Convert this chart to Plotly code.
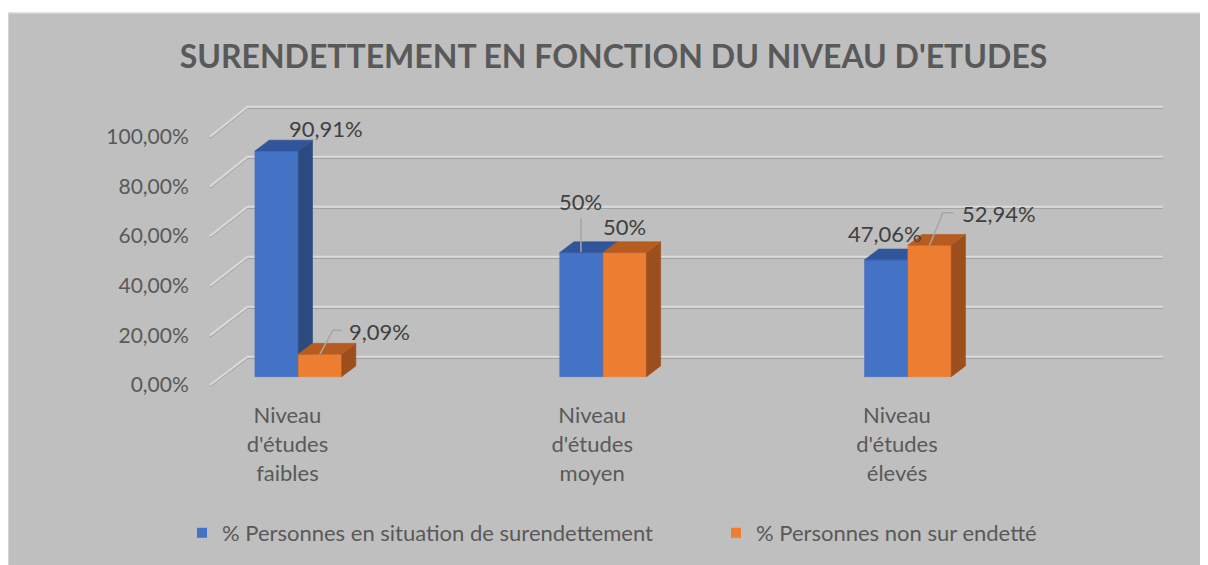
import plotly.graph_objects as go

# ---------------- data ----------------
categories = ["Niveau<br>d'études<br>faibles", "Niveau<br>d'études<br>moyen", "Niveau<br>d'études<br>élevés"]
series_names = ["% Personnes en situation de surendettement", "% Personnes non sur endetté"]
surendettes = [90.91, 50.0, 47.06]
non_surendettes = [9.09, 50.0, 52.94]
y_ticks = [0, 20, 40, 60, 80, 100]
title_text = "SURENDETTEMENT EN FONCTION DU NIVEAU D'ETUDES"

# ---------------- style / geometry (page pixels) ----------------
PAGE_W, PAGE_H = 1208, 565
OFF = 8                                  # page body margin
W, H = PAGE_W - OFF, PAGE_H - OFF        # figure size
PLOT_X0, PLOT_X1 = 200, 1170             # plot area, page px
PLOT_Y0, PLOT_Y1 = 100, 395
L, R = PLOT_X0 - OFF, PAGE_W - PLOT_X1
T, B = PLOT_Y0 - OFF, PAGE_H - PLOT_Y1

CAT0_PX = 287.4      # page x of first category on the front plane
CAT_PX = 304.8       # pixels per category
ZERO_PY = 385.0      # page y of 0 % on the front plane
PCT_PX = 2.483       # pixels per percent
BAR_W_PX = 43.35
GROUP_SHIFT_PX = 10.9
BAR_LIFT_PX = 8.3
DEPTH_DX_PX, DEPTH_DY_PX = 14.2, 10.8
WALL_LEFT_PX = 210.0
WALL_DX_PX, WALL_DY_PX = 37.5, 28.3
WALL_RIGHT_PX = 1163.0
WALL_SCALE = 1.0068
LEGEND_X_PX = [182, 716]
LEGEND_Y_PX = 533

FONT = "Lato"
TEXT_GREY = "#595959"
LABEL_GREY = "#404040"
BG = "#BFBFBF"
front_colors = ["#4472C4", "#ED7D31"]
side_colors = ["#2C4A80", "#9C4F1D"]
top_colors = ["#31559A", "#B65C20"]

dxu = lambda px: px / CAT_PX      # pixels -> category units
dyu = lambda px: px / PCT_PX      # pixels -> percent units

x_range = [(PLOT_X0 - CAT0_PX) / CAT_PX, (PLOT_X1 - CAT0_PX) / CAT_PX]
y_range = [(ZERO_PY - PLOT_Y1) / PCT_PX, (ZERO_PY - PLOT_Y0) / PCT_PX]

def paper_x(px):
    return (px - PLOT_X0) / (PLOT_X1 - PLOT_X0)

def paper_y(py):
    return (PLOT_Y1 - py) / (PLOT_Y1 - PLOT_Y0)

def cont_x(px):
    return (px - OFF) / W

def cont_y(py):
    return 1 - (py - OFF) / H

fig = go.Figure()

# ---------------- walls / gridlines ----------------
fx = dxu(WALL_LEFT_PX - CAT0_PX)
bx = fx + dxu(WALL_DX_PX)
brx = dxu(WALL_RIGHT_PX - CAT0_PX)
wall_lift = dyu(WALL_DY_PX)
for color, width, shift in [("#A3A3A3", 1.2, dyu(1.6)), ("#DADADA", 2.0, 0.0)]:
    gx, gy = [], []
    for v in y_ticks:
        vb = wall_lift + v * WALL_SCALE
        gx += [fx, bx, brx, None]
        gy += [v - shift, vb - shift, vb - shift, None]
    fig.add_trace(go.Scatter(x=gx, y=gy, mode="lines", line=dict(color=color, width=width),
                             hoverinfo="skip", showlegend=False))

# ---------------- 3D bars ----------------
bw = dxu(BAR_W_PX)
lift = dyu(BAR_LIFT_PX)
ddx, ddy = dxu(DEPTH_DX_PX), dyu(DEPTH_DY_PX)
series = [surendettes, non_surendettes]
bar_geo = []  # per series: list of (center x, top y)
for s, vals in enumerate(series):
    fxs, fys, sxs, sys_, txs, tys = [], [], [], [], [], []
    geo = []
    for i, v in enumerate(vals):
        xl = i + dxu(GROUP_SHIFT_PX) - bw + s * bw
        xr = xl + bw
        b0 = lift
        t0 = lift + v
        geo.append(((xl + xr) / 2, t0))
        fxs += [xl, xr, xr, xl, xl, None]
        fys += [b0, b0, t0, t0, b0, None]
        sxs += [xr, xr + ddx, xr + ddx, xr, xr, None]
        sys_ += [b0, b0 + ddy, t0 + ddy, t0, b0, None]
        txs += [xl, xl + ddx, xr + ddx, xr, xl, None]
        tys += [t0, t0 + ddy, t0 + ddy, t0, t0, None]
    bar_geo.append(geo)
    for xs, ys, col in [(fxs, fys, front_colors[s]), (sxs, sys_, side_colors[s]), (txs, tys, top_colors[s])]:
        fig.add_trace(go.Scatter(x=xs, y=ys, mode="lines", fill="toself", fillcolor=col,
                                 line=dict(color=col, width=0.6), hoverinfo="skip", showlegend=False))

# ---------------- legend-only entries (one legend per series) ----------------
legend_ids = ["legend", "legend2"]
for s, name in enumerate(series_names):
    fig.add_trace(go.Scatter(x=[None], y=[None], mode="markers", name=name, legend=legend_ids[s],
                             marker=dict(symbol="square", size=10, color=front_colors[s])))

# ---------------- data labels ----------------
def fmt(v):
    t = f"{v:.2f}".rstrip("0").rstrip(".")
    return t.replace(".", ",") + "%"

# label offsets (px) from front-top-centre of each bar, per series
label_offsets = [[(49, -22), (-1, -51), (-1, -26.5)],
                 [(60, -23), (0, -26), (69, -32)]]
# leader lines: points (px offsets relative to label centre), None = no leader
leaders = [[None, [(0.5, 50.5), (0.5, 16.6)], None],
           [[(-60, 23), (-47, -1), (-38, -1)], None, [(-69, 32), (-55.7, -0.5), (-45, -0.5)]]]

lx, ly = [], []
for s, vals in enumerate(series):
    for i, v in enumerate(vals):
        cx, top = bar_geo[s][i]
        ox, oy = label_offsets[s][i]
        fig.add_annotation(x=cx, y=top, xshift=ox, yshift=-oy, text=fmt(v), showarrow=False,
                           xanchor="center", yanchor="middle",
                           font=dict(family=FONT, size=22, color=LABEL_GREY))
        if leaders[s][i]:
            for (px, py) in leaders[s][i]:
                lx.append(cx + dxu(ox + px))
                ly.append(top - dyu(oy + py))
            lx.append(None); ly.append(None)
fig.add_trace(go.Scatter(x=lx, y=ly, mode="lines", line=dict(color="#A6A6A6", width=1.5),
                         hoverinfo="skip", showlegend=False))

# ---------------- background frame ----------------
fig.add_shape(type="rect", xref="paper", yref="paper", layer="below",
              x0=paper_x(8), x1=paper_x(PAGE_W + 5), y0=paper_y(13), y1=paper_y(PAGE_H + 5),
              fillcolor=BG, line=dict(color="#D9D9D9", width=1.5))

legend_style = dict(orientation="h", xref="container", yref="container", xanchor="left",
                    y=cont_y(LEGEND_Y_PX), yanchor="middle",
                    font=dict(family=FONT, size=22, color=TEXT_GREY), bgcolor="rgba(0,0,0,0)")

fig.update_layout(
    width=W, height=H, autosize=False,
    margin=dict(l=L, r=R, t=T, b=B, autoexpand=False),
    paper_bgcolor="white", plot_bgcolor="rgba(0,0,0,0)",
    title=dict(text=f"<b>{title_text}</b>", xref="container", yref="container",
               x=cont_x(613.5), y=cont_y(57), xanchor="center", yanchor="middle",
               font=dict(family=FONT, size=32, color=TEXT_GREY)),
    xaxis=dict(range=x_range, showgrid=False, zeroline=False, showline=False,
               tickvals=list(range(len(categories))), ticktext=categories,
               ticks="outside", ticklen=1, tickcolor="rgba(0,0,0,0)",
               tickfont=dict(family=FONT, size=22, color=TEXT_GREY), fixedrange=True),
    yaxis=dict(range=y_range, showgrid=False, zeroline=False, showline=False,
               tickvals=y_ticks, ticktext=[f"{v:.2f}".replace(".", ",") + "%" for v in y_ticks],
               ticks="outside", ticklen=6, tickcolor="rgba(0,0,0,0)",
               tickfont=dict(family=FONT, size=21, color=TEXT_GREY), fixedrange=True),
    showlegend=True,
    legend=dict(x=cont_x(LEGEND_X_PX[0]), **legend_style),
    legend2=dict(x=cont_x(LEGEND_X_PX[1]), **legend_style),
)

fig.write_html("out.html")
